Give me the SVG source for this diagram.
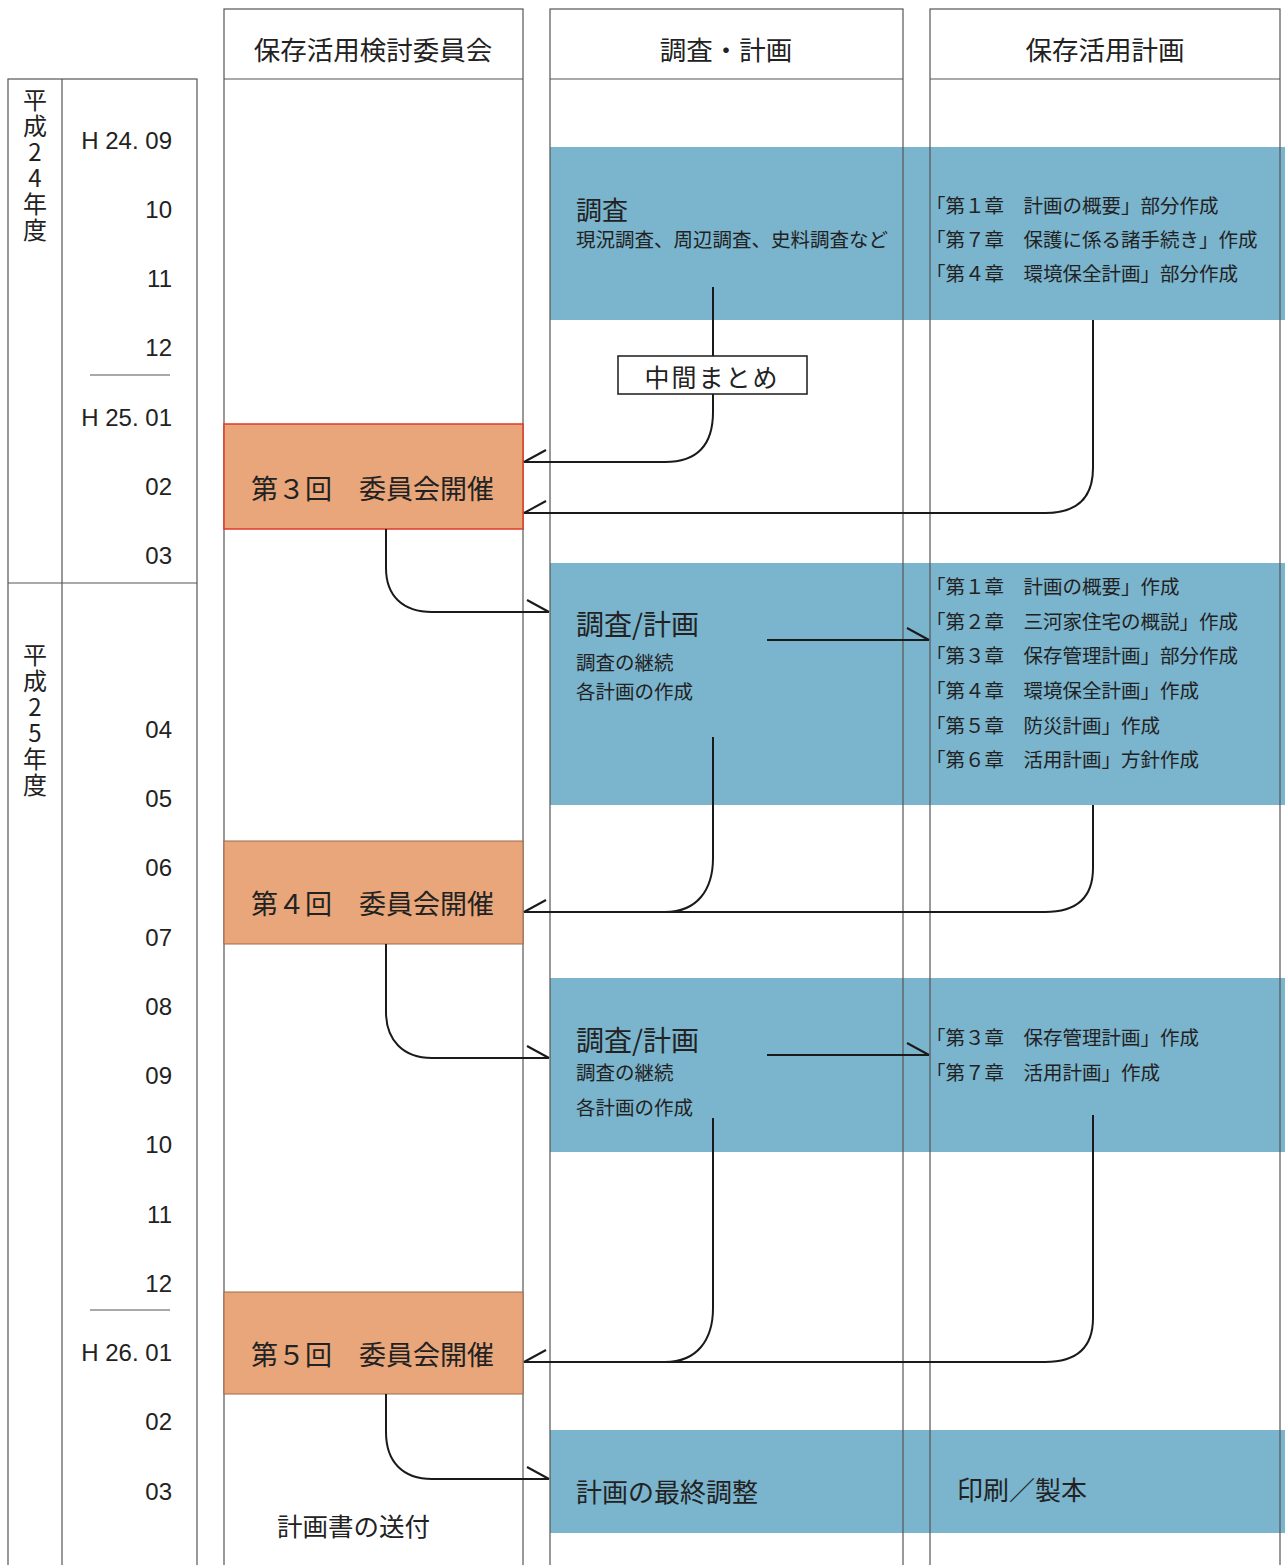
<svg xmlns="http://www.w3.org/2000/svg" width="1285" height="1565" viewBox="0 0 1285 1565">
<defs>
<style>
.bg{fill:#ffffff}
.frame{fill:none;stroke:#555;stroke-width:1.2}
.band{fill:#7ab4cd}
.meet{fill:#e8a67a}
.t{font-family:"Noto Sans CJK JP","Noto Sans",sans-serif;fill:#222;dominant-baseline:central}
.m{font-family:"Liberation Sans",Arial,sans-serif;fill:#222;font-size:24px;text-anchor:end;dominant-baseline:central}
.hd{font-size:26.5px;text-anchor:middle}
.big{font-size:26px}
.mt{font-size:27px}
.sm{font-family:"Liberation Serif","Noto Sans CJK JP",serif;font-size:19.5px}
.yr{font-family:"Noto Sans CJK JP",sans-serif;fill:#222;font-size:24px;writing-mode:vertical-rl;text-orientation:upright;letter-spacing:2px}
.con{fill:none;stroke:#1a1a1a;stroke-width:2}
</style>
<marker id="hl" markerUnits="userSpaceOnUse" markerWidth="30" markerHeight="30" orient="auto" overflow="visible"><path d="M0,0 L-22,12" fill="none" stroke="#1a1a1a" stroke-width="2"/></marker>
<marker id="hr" markerUnits="userSpaceOnUse" markerWidth="30" markerHeight="30" orient="auto" overflow="visible"><path d="M0,0 L-22,-12" fill="none" stroke="#1a1a1a" stroke-width="2"/></marker>
</defs>
<rect class="bg" x="0" y="0" width="1285" height="1565"/>

<g id="bands">
<rect class="band" x="550" y="147" width="735" height="173"/>
<rect class="band" x="550" y="563" width="735" height="242"/>
<rect class="band" x="550" y="978" width="735" height="174"/>
<rect class="band" x="550" y="1430" width="735" height="103"/>
</g>

<g id="timeline">
<rect class="frame" x="8" y="79" width="189" height="1500"/>
<line class="frame" x1="62" y1="79" x2="62" y2="1565"/>
<line class="frame" x1="8" y1="583" x2="197" y2="583"/>
<line class="frame" x1="90" y1="375" x2="170" y2="375"/>
<line class="frame" x1="90" y1="1310" x2="170" y2="1310"/>
<text class="yr" x="35" y="88">平成24年度</text>
<text class="yr" x="35" y="643">平成25年度</text>
<text class="m" x="172" y="140">H 24. 09</text>
<text class="m" x="172" y="209">10</text>
<text class="m" x="172" y="278">11</text>
<text class="m" x="172" y="347">12</text>
<text class="m" x="172" y="417">H 25. 01</text>
<text class="m" x="172" y="486">02</text>
<text class="m" x="172" y="555">03</text>
<text class="m" x="172" y="729">04</text>
<text class="m" x="172" y="798">05</text>
<text class="m" x="172" y="867">06</text>
<text class="m" x="172" y="937">07</text>
<text class="m" x="172" y="1006">08</text>
<text class="m" x="172" y="1075">09</text>
<text class="m" x="172" y="1144">10</text>
<text class="m" x="172" y="1214">11</text>
<text class="m" x="172" y="1283">12</text>
<text class="m" x="172" y="1352">H 26. 01</text>
<text class="m" x="172" y="1421">02</text>
<text class="m" x="172" y="1491">03</text>
</g>

<g id="col-committee">
<rect class="frame" x="224" y="9" width="299" height="1570"/>
<line class="frame" x1="224" y1="79" x2="523" y2="79"/>
<text class="t hd" x="373" y="48">保存活用検討委員会</text>
</g>
<g id="col-survey">
<rect class="frame" x="550" y="9" width="353" height="1570"/>
<line class="frame" x1="550" y1="79" x2="903" y2="79"/>
<text class="t hd" x="726" y="48">調査・計画</text>
</g>
<g id="col-plan">
<rect class="frame" x="930" y="9" width="350" height="1570"/>
<line class="frame" x1="930" y1="79" x2="1280" y2="79"/>
<text class="t hd" x="1105" y="48">保存活用計画</text>
</g>

<g id="meeting3">
<rect class="meet" x="224" y="424" width="299" height="105" stroke="#e03a2a" stroke-width="1.5"/>
<text class="t mt" x="251" y="487">第３回　委員会開催</text>
</g>
<g id="meeting4">
<rect class="meet" x="224" y="841" width="299" height="103" stroke="#a06a48" stroke-width="1"/>
<text class="t mt" x="251" y="902">第４回　委員会開催</text>
</g>
<g id="meeting5">
<rect class="meet" x="224" y="1292" width="299" height="102" stroke="#a06a48" stroke-width="1"/>
<text class="t mt" x="251" y="1353">第５回　委員会開催</text>
</g>
<g id="send">
<text class="t" font-size="25.5" x="277" y="1524">計画書の送付</text>
</g>

<g id="survey1">
<text class="t big" x="576" y="208">調査</text>
<text class="t sm" x="576" y="240">現況調査、周辺調査、史料調査など</text>
</g>
<g id="plan1">
<text class="t sm" x="926" y="206">「第１章　計画の概要」部分作成</text>
<text class="t sm" x="926" y="240">「第７章　保護に係る諸手続き」作成</text>
<text class="t sm" x="926" y="274">「第４章　環境保全計画」部分作成</text>
</g>
<g id="midsummary">
<rect x="618" y="356" width="189" height="38" fill="#fff" stroke="#1a1a1a" stroke-width="1.5"/>
<text class="t" font-size="25" x="712" y="376" text-anchor="middle" letter-spacing="2">中間まとめ</text>
</g>
<g id="survey2">
<text class="t" font-size="28" x="576" y="623">調査/計画</text>
<text class="t sm" x="576" y="663">調査の継続</text>
<text class="t sm" x="576" y="692">各計画の作成</text>
</g>
<g id="plan2">
<text class="t sm" x="926" y="587">「第１章　計画の概要」作成</text>
<text class="t sm" x="926" y="622">「第２章　三河家住宅の概説」作成</text>
<text class="t sm" x="926" y="656">「第３章　保存管理計画」部分作成</text>
<text class="t sm" x="926" y="691">「第４章　環境保全計画」作成</text>
<text class="t sm" x="926" y="726">「第５章　防災計画」作成</text>
<text class="t sm" x="926" y="760">「第６章　活用計画」方針作成</text>
</g>
<g id="survey3">
<text class="t" font-size="28" x="576" y="1039">調査/計画</text>
<text class="t sm" x="576" y="1073">調査の継続</text>
<text class="t sm" x="576" y="1108">各計画の作成</text>
</g>
<g id="plan3">
<text class="t sm" x="926" y="1038">「第３章　保存管理計画」作成</text>
<text class="t sm" x="926" y="1073">「第７章　活用計画」作成</text>
</g>
<g id="survey4">
<text class="t big" x="576" y="1490">計画の最終調整</text>
</g>
<g id="plan4">
<text class="t big" x="957" y="1488">印刷／製本</text>
</g>

<g id="connectors">
<path class="con" d="M713,287 V356"/>
<path class="con" d="M713,394 V412 C713,445 697,462 665,462 H524" marker-end="url(#hl)"/>
<path class="con" d="M1093,320 V468 C1093,497 1078,513 1045,513 H524" marker-end="url(#hl)"/>
<path class="con" d="M386,529 V568 C386,596 403,612 432,612 H549" marker-end="url(#hr)"/>
<path class="con" d="M767,640 H929" marker-end="url(#hr)"/>
<path class="con" d="M713,737 V858 C713,890 697,912 665,912 H524" marker-end="url(#hl)"/>
<path class="con" d="M1093,805 V868 C1093,897 1078,912 1045,912 H665"/>
<path class="con" d="M386,944 V1012 C386,1040 403,1058 432,1058 H549" marker-end="url(#hr)"/>
<path class="con" d="M767,1055 H929" marker-end="url(#hr)"/>
<path class="con" d="M713,1118 V1308 C713,1340 697,1362 665,1362 H524" marker-end="url(#hl)"/>
<path class="con" d="M1093,1115 V1318 C1093,1347 1078,1362 1045,1362 H665"/>
<path class="con" d="M386,1394 V1432 C386,1462 403,1479 432,1479 H549" marker-end="url(#hr)"/>
</g>
</svg>
